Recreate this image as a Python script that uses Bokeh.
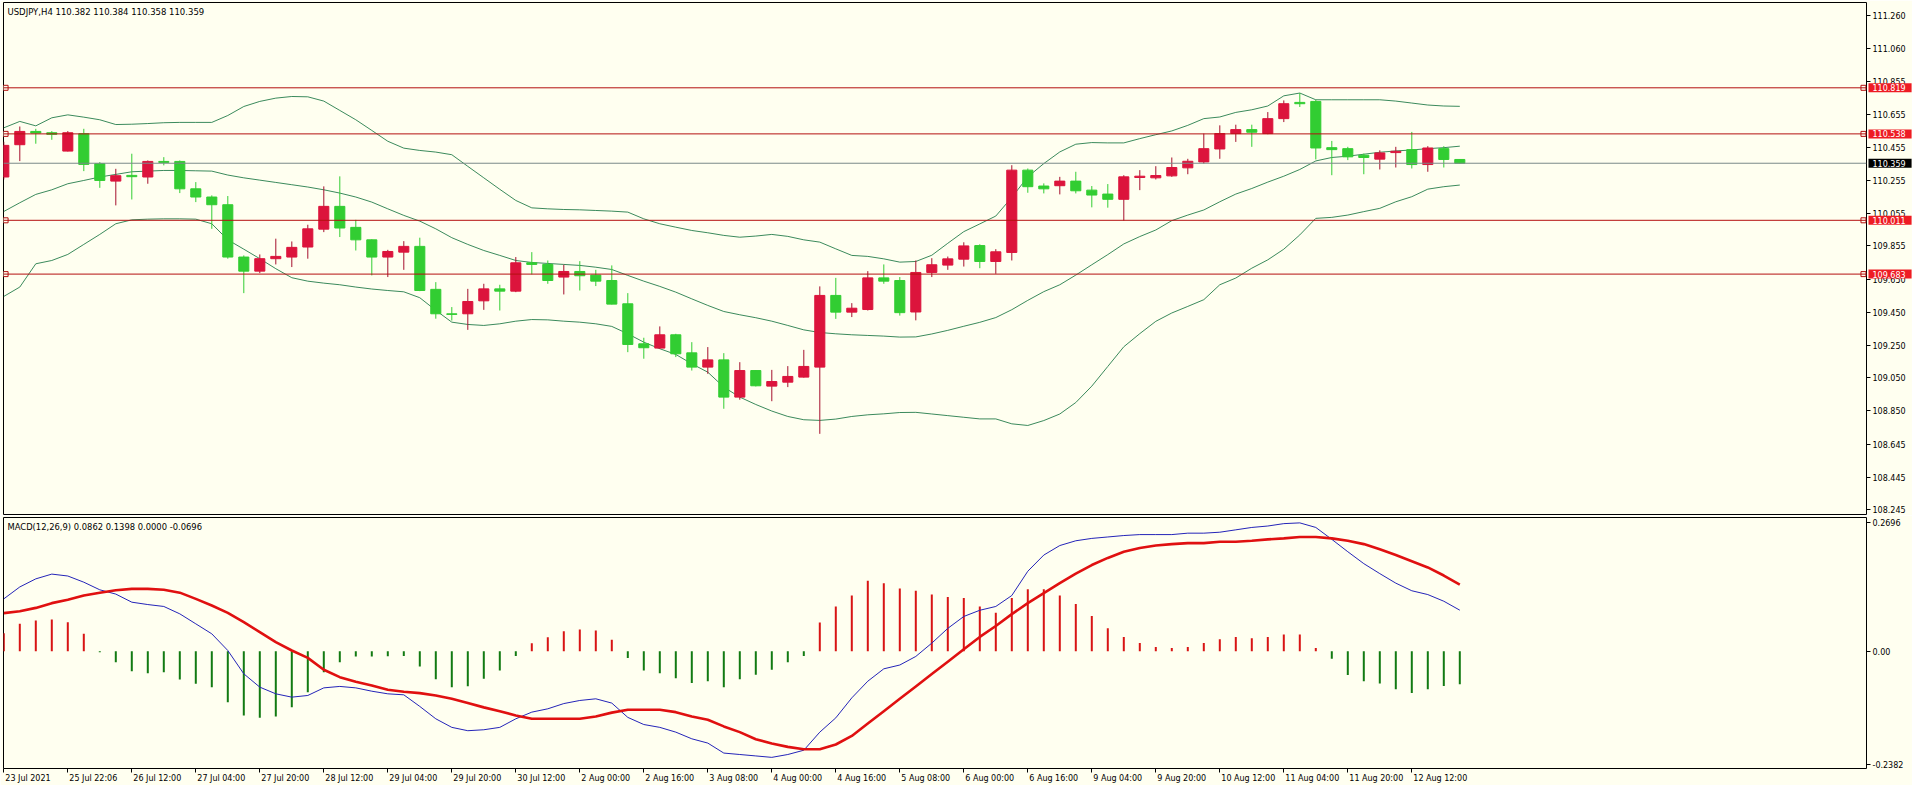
from bokeh.plotting import figure
from bokeh.models import (ColumnDataSource, Range1d, FixedTicker, Span, Label,
                          PrintfTickFormatter)
from bokeh.layouts import column
from bokeh.embed import file_html
from bokeh.resources import INLINE

BG = "#fffff0"
FONT = "DejaVu Sans"
UP_BODY = "#dc143c"
UP_WICK = "#a5102e"
DN_BODY = "#32cd32"
DN_WICK = "#32cd32"
BB_COL = "#3b8a5c"
LVL_COL = "#b41010"
BOX_COL = "#ee1c24"
BID_COL = "#7a8a8a"

symbol = "USDJPY,H4"

opens = [110.275, 110.472, 110.553, 110.545, 110.433, 110.539, 110.356, 110.250, 110.285, 110.275,
         110.370, 110.370, 110.203, 110.153, 110.106, 109.787, 109.701, 109.777, 109.787, 109.848,
         109.957, 110.096, 109.968, 109.892, 109.787, 109.817, 109.852, 109.590, 109.441, 109.441,
         109.520, 109.593, 109.579, 109.752, 109.742, 109.665, 109.699, 109.677, 109.644, 109.502,
         109.258, 109.232, 109.313, 109.203, 109.116, 109.160, 108.933, 109.095, 109.000, 109.024,
         109.055, 109.116, 109.553, 109.451, 109.467, 109.660, 109.644, 109.452, 109.693, 109.738,
         109.774, 109.857, 109.760, 109.815, 110.317, 110.220, 110.222, 110.250, 110.195, 110.171,
         110.139, 110.272, 110.270, 110.282, 110.331, 110.367, 110.446, 110.540, 110.564, 110.540,
         110.631, 110.730, 110.736, 110.454, 110.448, 110.408, 110.384, 110.424, 110.442, 110.351,
         110.448, 110.382]
highs = [110.490, 110.583, 110.569, 110.555, 110.555, 110.569, 110.366, 110.325, 110.417, 110.376,
         110.396, 110.376, 110.244, 110.163, 110.159, 109.797, 109.803, 109.899, 109.882, 109.984,
         110.218, 110.279, 110.014, 109.895, 109.831, 109.884, 109.905, 109.634, 109.482, 109.593,
         109.624, 109.618, 109.787, 109.817, 109.766, 109.740, 109.762, 109.709, 109.736, 109.567,
         109.295, 109.364, 109.319, 109.268, 109.238, 109.201, 109.146, 109.098, 109.099, 109.122,
         109.221, 109.608, 109.660, 109.506, 109.701, 109.742, 109.665, 109.766, 109.780, 109.790,
         109.877, 109.865, 109.835, 110.347, 110.327, 110.236, 110.276, 110.307, 110.220, 110.232,
         110.286, 110.317, 110.341, 110.394, 110.386, 110.540, 110.590, 110.594, 110.594, 110.671,
         110.742, 110.787, 110.746, 110.495, 110.459, 110.418, 110.438, 110.459, 110.550, 110.463,
         110.463, 110.384]
lows = [110.260, 110.372, 110.478, 110.502, 110.431, 110.311, 110.209, 110.102, 110.138, 110.234,
        110.346, 110.177, 110.122, 109.959, 109.777, 109.567, 109.689, 109.742, 109.726, 109.777,
        109.939, 109.909, 109.827, 109.675, 109.665, 109.709, 109.579, 109.411, 109.400, 109.343,
        109.465, 109.461, 109.573, 109.681, 109.624, 109.559, 109.583, 109.610, 109.498, 109.207,
        109.167, 109.228, 109.177, 109.095, 109.075, 108.862, 108.917, 108.998, 108.908, 108.994,
        109.052, 108.709, 109.410, 109.421, 109.461, 109.624, 109.430, 109.401, 109.665, 109.709,
        109.729, 109.719, 109.685, 109.766, 110.179, 110.175, 110.169, 110.175, 110.090, 110.088,
        110.009, 110.195, 110.260, 110.276, 110.292, 110.357, 110.386, 110.489, 110.459, 110.536,
        110.610, 110.702, 110.382, 110.286, 110.378, 110.292, 110.321, 110.333, 110.327, 110.307,
        110.333, 110.358]
closes = [110.468, 110.553, 110.543, 110.535, 110.545, 110.352, 110.254, 110.283, 110.277, 110.370,
          110.364, 110.203, 110.153, 110.106, 109.787, 109.701, 109.777, 109.791, 109.846, 109.959,
          110.096, 109.964, 109.892, 109.787, 109.821, 109.852, 109.583, 109.441, 109.437, 109.516,
          109.593, 109.579, 109.752, 109.742, 109.644, 109.699, 109.673, 109.640, 109.500, 109.254,
          109.234, 109.313, 109.197, 109.116, 109.160, 108.933, 109.095, 109.002, 109.028, 109.059,
          109.120, 109.553, 109.451, 109.475, 109.660, 109.640, 109.448, 109.693, 109.740, 109.776,
          109.855, 109.760, 109.819, 110.317, 110.216, 110.203, 110.250, 110.191, 110.165, 110.139,
          110.276, 110.280, 110.284, 110.333, 110.371, 110.448, 110.540, 110.564, 110.548, 110.631,
          110.722, 110.722, 110.452, 110.442, 110.398, 110.394, 110.422, 110.432, 110.351, 110.452,
          110.382, 110.359]

bb_upper = [110.575, 110.614, 110.587, 110.636, 110.654, 110.640, 110.624, 110.595, 110.597, 110.601,
            110.606, 110.608, 110.608, 110.608, 110.650, 110.705, 110.736, 110.756, 110.766, 110.764,
            110.738, 110.681, 110.624, 110.559, 110.493, 110.451, 110.437, 110.427, 110.411, 110.340,
            110.270, 110.200, 110.132, 110.087, 110.081, 110.077, 110.075, 110.071, 110.067, 110.061,
            110.020, 109.990, 109.969, 109.949, 109.935, 109.919, 109.908, 109.915, 109.925, 109.913,
            109.892, 109.878, 109.837, 109.797, 109.791, 109.776, 109.756, 109.760, 109.798, 109.871,
            109.942, 109.989, 110.037, 110.151, 110.276, 110.357, 110.428, 110.475, 110.485, 110.483,
            110.483, 110.509, 110.533, 110.556, 110.590, 110.631, 110.641, 110.669, 110.685, 110.708,
            110.770, 110.787, 110.746, 110.746, 110.746, 110.746, 110.746, 110.738, 110.726, 110.714,
            110.708, 110.706]
bb_mid = [110.065, 110.118, 110.169, 110.197, 110.234, 110.254, 110.275, 110.291, 110.307, 110.311,
          110.315, 110.315, 110.313, 110.311, 110.287, 110.270, 110.256, 110.242, 110.228, 110.214,
          110.197, 110.177, 110.153, 110.122, 110.081, 110.041, 110.006, 109.959, 109.905, 109.864,
          109.827, 109.797, 109.766, 109.754, 109.748, 109.742, 109.736, 109.725, 109.711, 109.675,
          109.640, 109.608, 109.573, 109.532, 109.492, 109.455, 109.435, 109.417, 109.396, 109.370,
          109.343, 109.327, 109.319, 109.313, 109.309, 109.305, 109.299, 109.300, 109.318, 109.340,
          109.365, 109.389, 109.418, 109.466, 109.523, 109.576, 109.618, 109.677, 109.740, 109.802,
          109.867, 109.912, 109.952, 110.009, 110.043, 110.074, 110.124, 110.171, 110.205, 110.244,
          110.280, 110.321, 110.373, 110.394, 110.402, 110.414, 110.426, 110.434, 110.440, 110.448,
          110.454, 110.463]
bb_lower = [109.547, 109.604, 109.746, 109.766, 109.803, 109.864, 109.925, 109.990, 110.014, 110.018,
            110.020, 110.020, 110.018, 109.990, 109.892, 109.835, 109.777, 109.716, 109.661, 109.640,
            109.628, 109.618, 109.604, 109.592, 109.583, 109.575, 109.539, 109.462, 109.390, 109.376,
            109.370, 109.380, 109.396, 109.406, 109.404, 109.396, 109.390, 109.380, 109.364, 109.319,
            109.268, 109.228, 109.193, 109.136, 109.085, 108.994, 108.933, 108.888, 108.848, 108.815,
            108.795, 108.791, 108.799, 108.815, 108.825, 108.831, 108.839, 108.840, 108.830, 108.820,
            108.810, 108.800, 108.800, 108.770, 108.760, 108.790, 108.830, 108.900, 109.000, 109.120,
            109.240, 109.320, 109.395, 109.446, 109.486, 109.527, 109.618, 109.659, 109.719, 109.770,
            109.835, 109.922, 110.023, 110.029, 110.043, 110.064, 110.084, 110.124, 110.155, 110.201,
            110.216, 110.226]

macd_hist = [0.0378, 0.0575, 0.0645, 0.0666, 0.0610, 0.0365, -0.0020, -0.0231, -0.0420, -0.0462,
             -0.0441, -0.0595, -0.0685, -0.0756, -0.1070, -0.1350, -0.1400, -0.1370, -0.1176, -0.0860,
             -0.0440, -0.0230, -0.0112, -0.0112, -0.0105, -0.0098, -0.0321, -0.0588, -0.0756, -0.0735,
             -0.0580, -0.0406, -0.0098, 0.0168, 0.0294, 0.0420, 0.0456, 0.0435, 0.0240, -0.0140,
             -0.0406, -0.0462, -0.0567, -0.0670, -0.0630, -0.0756, -0.0588, -0.0497, -0.0392, -0.0230,
             -0.0100, 0.0605, 0.0940, 0.1170, 0.1480, 0.1430, 0.1320, 0.1270, 0.1190, 0.1140,
             0.1120, 0.0940, 0.0810, 0.1120, 0.1300, 0.1300, 0.1170, 0.0990, 0.0740, 0.0480,
             0.0300, 0.0170, 0.0090, 0.0070, 0.0090, 0.0170, 0.0250, 0.0300, 0.0270, 0.0300,
             0.0350, 0.0350, 0.0070, -0.0160, -0.0500, -0.0630, -0.0680, -0.0800, -0.0880, -0.0800,
             -0.0730, -0.0696]
macd_main = [0.110, 0.135, 0.152, 0.162, 0.158, 0.145, 0.129, 0.120, 0.103, 0.098,
             0.094, 0.0785, 0.0575, 0.0365, 0.0015, -0.0475, -0.0755, -0.0895, -0.0965, -0.093,
             -0.077, -0.074, -0.077, -0.084, -0.0895, -0.0916, -0.116, -0.142, -0.160, -0.167,
             -0.165, -0.160, -0.142, -0.128, -0.121, -0.110, -0.1035, -0.100, -0.109, -0.139,
             -0.154, -0.160, -0.170, -0.184, -0.193, -0.214, -0.217, -0.220, -0.223, -0.217,
             -0.208, -0.170, -0.140, -0.098, -0.063, -0.037, -0.029, -0.011, 0.017, 0.048,
             0.073, 0.086, 0.094, 0.117, 0.168, 0.202, 0.222, 0.232, 0.237, 0.240,
             0.243, 0.245, 0.245, 0.245, 0.248, 0.248, 0.250, 0.255, 0.260, 0.263,
             0.268, 0.2696, 0.260, 0.235, 0.209, 0.184, 0.163, 0.143, 0.127, 0.119,
             0.105, 0.0862]
macd_signal = [0.080, 0.084, 0.091, 0.101, 0.108, 0.117, 0.123, 0.128, 0.131, 0.131,
               0.129, 0.123, 0.110, 0.096, 0.0805, 0.061, 0.040, 0.019, 0.0015, -0.014,
               -0.039, -0.0545, -0.064, -0.072, -0.081, -0.085, -0.088, -0.093, -0.100, -0.109,
               -0.118, -0.126, -0.135, -0.142, -0.142, -0.142, -0.142, -0.137, -0.129, -0.123,
               -0.123, -0.123, -0.128, -0.137, -0.144, -0.158, -0.170, -0.185, -0.194, -0.201,
               -0.206, -0.206, -0.196, -0.178, -0.152, -0.126, -0.100, -0.074, -0.048, -0.022,
               0.004, 0.030, 0.053, 0.078, 0.101, 0.122, 0.143, 0.163, 0.181, 0.196,
               0.209, 0.217, 0.222, 0.225, 0.227, 0.227, 0.230, 0.230, 0.232, 0.235,
               0.237, 0.240, 0.240, 0.237, 0.232, 0.225, 0.214, 0.202, 0.189, 0.176,
               0.159, 0.1398]

level_lines = [110.819, 110.538, 110.011, 109.683]
price_ticks = [111.260, 111.060, 110.855, 110.655, 110.455, 110.255, 110.055, 109.855,
               109.650, 109.450, 109.250, 109.050, 108.850, 108.645, 108.445, 108.245]
macd_ticks = [0.2696, 0.0, -0.2382]
macd_tick_labels = ["0.2696", "0.00", "-0.2382"]
time_tick_bars = [0, 4, 8, 12, 16, 20, 24, 28, 32, 36, 40, 44, 48, 52, 56, 60, 64, 68, 72, 76, 80, 84, 88]
time_tick_labels = ["23 Jul 2021", "25 Jul 22:06", "26 Jul 12:00", "27 Jul 04:00", "27 Jul 20:00",
                    "28 Jul 12:00", "29 Jul 04:00", "29 Jul 20:00", "30 Jul 12:00", "2 Aug 00:00",
                    "2 Aug 16:00", "3 Aug 08:00", "4 Aug 00:00", "4 Aug 16:00", "5 Aug 08:00",
                    "6 Aug 00:00", "6 Aug 16:00", "9 Aug 04:00", "9 Aug 20:00", "10 Aug 12:00",
                    "11 Aug 04:00", "11 Aug 20:00", "12 Aug 12:00"]

n = len(opens)
xs = list(range(n))
up = [c >= o for o, c in zip(opens, closes)]

LEFT = 3
FRAME_W = 1863
AXIS_W = 46
PX_PER_BAR = 16.0
X0 = -0.3 / PX_PER_BAR
XR = Range1d(X0, X0 + FRAME_W / PX_PER_BAR)
YR = Range1d(108.2172, 111.3391)
MR = Range1d(-0.2464, 0.2809)
FS = "8px"


def style_axis(ax):
    ax.axis_line_color = None
    ax.major_tick_line_color = "black"
    ax.major_tick_out = 4
    ax.major_tick_in = 0
    ax.minor_tick_line_color = None
    ax.major_label_text_font = FONT
    ax.major_label_text_font_size = FS
    ax.major_label_text_color = "black"
    ax.major_label_standoff = 2


# ---------------- price panel ----------------
p = figure(frame_width=FRAME_W, frame_height=512, x_range=XR, y_range=YR,
           output_backend="svg", toolbar_location=None, y_axis_location="right",
           x_axis_location=None, min_border_left=LEFT, min_border_top=2,
           min_border_bottom=1, min_border_right=AXIS_W,
           background_fill_color=BG, border_fill_color=BG, outline_line_color="black")
p.grid.visible = False
style_axis(p.yaxis[0])
p.yaxis.ticker = FixedTicker(ticks=price_ticks)
p.yaxis.formatter = PrintfTickFormatter(format="%.3f")

src = ColumnDataSource(dict(
    x=xs, h=highs, l=lows,
    top=[max(o, c) for o, c in zip(opens, closes)],
    bot=[min(o, c) for o, c in zip(opens, closes)],
    body=[UP_BODY if u else DN_BODY for u in up],
    wick=[UP_WICK if u else DN_WICK for u in up]))

p.line(xs, bb_upper, line_color=BB_COL, line_width=1)
p.line(xs, bb_mid, line_color=BB_COL, line_width=1)
p.line(xs, bb_lower, line_color=BB_COL, line_width=1)

for v in level_lines:
    p.add_layout(Span(location=v, dimension="width", line_color=LVL_COL, line_width=1))
p.add_layout(Span(location=closes[-1], dimension="width", line_color=BID_COL, line_width=1))

p.segment(x0="x", y0="h", x1="x", y1="l", line_color="wick", line_width=1, source=src)
p.vbar(x="x", width=0.63, top="top", bottom="bot", fill_color="body", line_color="body",
       line_width=1, source=src)

p.scatter(x=[XR.start + 0.13] * len(level_lines) + [XR.end - 0.19] * len(level_lines),
          y=level_lines * 2, marker="square", size=5, line_color=LVL_COL, fill_color=BG,
          line_width=1)

title = f"{symbol}  {opens[-1]:.3f} {highs[-1]:.3f} {lows[-1]:.3f} {closes[-1]:.3f}"
p.add_layout(Label(x=XR.start, y=YR.end, x_offset=4, y_offset=-4, text=title, text_font=FONT,
                   text_font_size="8.5px", text_color="black", text_align="left",
                   text_baseline="top"))

# price boxes on the right scale (side-panel labels are not clipped to the frame)
pad = dict(left=4, right=6, top=1, bottom=1)
for v, col in zip(level_lines + [closes[-1]], [BOX_COL] * len(level_lines) + ["black"]):
    p.add_layout(Label(x=XR.end, y=v, x_offset=2, text=f"{v:.3f}", text_font=FONT,
                       text_font_size=FS, text_color="white", text_align="left",
                       text_baseline="middle", background_fill_color=col, padding=pad),
                 "right")

# ---------------- MACD panel ----------------
m = figure(frame_width=FRAME_W, frame_height=251, x_range=XR, y_range=MR,
           output_backend="svg", toolbar_location=None, y_axis_location="right",
           min_border_left=LEFT, min_border_top=2, min_border_bottom=0, min_border_right=AXIS_W,
           background_fill_color=BG, border_fill_color=BG, outline_line_color="black")
m.grid.visible = False
style_axis(m.yaxis[0])
m.yaxis.ticker = FixedTicker(ticks=macd_ticks)
m.yaxis.major_label_overrides = dict(zip(macd_ticks, macd_tick_labels))

# time scale: labels left-aligned after their tick (MetaTrader style);
# the visible tick marks are the minor ticks placed on the bars themselves
CW = {"0": 0.636, "1": 0.636, "2": 0.636, "3": 0.636, "4": 0.636, "5": 0.636, "6": 0.636,
      "7": 0.636, "8": 0.636, "9": 0.636, " ": 0.318, ":": 0.337, "J": 0.295, "u": 0.634,
      "l": 0.278, "A": 0.684, "g": 0.635}


def text_w(s, size=8.0):
    return sum(CW.get(ch, 0.6) for ch in s) * size


label_pos = [t + (text_w(s) / 2 + 1.5) / PX_PER_BAR for t, s in zip(time_tick_bars, time_tick_labels)]
xa = m.xaxis[0]
style_axis(xa)
xa.ticker = FixedTicker(ticks=label_pos, minor_ticks=time_tick_bars)
xa.major_label_overrides = dict(zip(label_pos, time_tick_labels))
xa.major_tick_line_color = None
xa.major_tick_out = 4
xa.minor_tick_line_color = "black"
xa.minor_tick_out = 4
xa.minor_tick_in = 0
xa.major_label_standoff = 1

hist_col = ["#d81414" if h > 0 else "#127a12" for h in macd_hist]
m.segment(x0=xs, y0=[0] * n, x1=xs, y1=macd_hist, line_color=hist_col, line_width=2)
m.line(xs, macd_main, line_color="#2424b8", line_width=1)
m.line(xs, macd_signal, line_color="#e01010", line_width=2.6)

mtitle = f"MACD(12,26,9) {macd_main[-1]:.4f} {macd_signal[-1]:.4f} 0.0000 {macd_hist[-1]:.4f}"
m.add_layout(Label(x=XR.start, y=MR.end, x_offset=4, y_offset=-4, text=mtitle, text_font=FONT,
                   text_font_size="8.4px", text_color="black", text_align="left",
                   text_baseline="top"))

layout = column(p, m, spacing=0)
open("out.html", "w").write(file_html(layout, INLINE))
